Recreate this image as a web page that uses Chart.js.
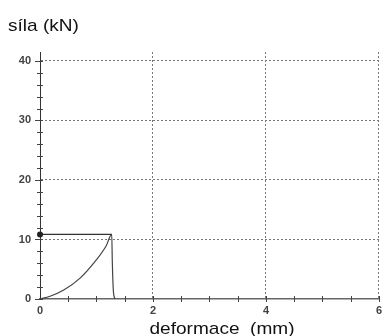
<!DOCTYPE html>
<html>
<head>
<meta charset="utf-8">
<script src="https://cdn.jsdelivr.net/npm/chart.js@4"></script>
<style>
html, body { margin: 0; padding: 0; background: #fff; }
</style>
</head>
<body>
<canvas id="Chart" width="387" height="336"></canvas>
<script>
// data
const xTicks = [0, 2, 4, 6]
const yTicks = [0, 10, 20, 30, 40]
const curveX = [0, 0.19, 0.42, 0.71, 1.0, 1.17, 1.27, 1.28, 1.30, 1.33]
const curveY = [0, 0.5, 1.5, 3.5, 6.6, 8.9, 10.85, 6.3, 1.2, 0]
const peakX = [0, 1.27]
const peakY = [10.85, 10.85]
const yTitle = "síla (kN)"
const xTitle = "deformace  (mm)"

const toPoints = (xs, ys) => xs.map((x, i) => ({ x: x, y: ys[i] }))

// minor ticks, axis titles
const extras = {
    id: 'extras',
    afterDraw(chart) {
        const ctx = chart.ctx
        const xs = chart.scales.x
        const ys = chart.scales.y
        const x0 = xs.getPixelForValue(0)
        const y0 = ys.getPixelForValue(0)
        ctx.save()
        ctx.strokeStyle = '#444'
        ctx.lineWidth = 1
        ctx.beginPath()
        for (let i = 0; i <= 20; i++) {
            const py = Math.round(ys.getPixelForValue(i * 2)) + 0.5
            const len = (i % 5 === 0) ? 5 : 3
            ctx.moveTo(x0 - len, py)
            ctx.lineTo(x0 + 3, py)
        }
        for (let i = 1; i <= 12; i++) {
            const px = Math.round(xs.getPixelForValue(i * 0.5)) + 0.5
            ctx.moveTo(px, y0 - 3)
            ctx.lineTo(px, y0 + 3)
        }
        ctx.stroke()

        ctx.fillStyle = '#111'
        ctx.font = '17px "Liberation Sans", Arial, sans-serif'
        ctx.textBaseline = 'alphabetic'
        ctx.textAlign = 'left'
        ctx.translate(8, 31)
        ctx.scale(1.12, 1)
        ctx.fillText(yTitle, 0, 0)
        ctx.setTransform(1, 0, 0, 1, 0, 0)
        ctx.textAlign = 'center'
        ctx.translate(222, 334)
        ctx.scale(1.12, 1)
        ctx.fillText(xTitle, 0, 0)
        ctx.restore()
    }
}

const tickFont = { family: '"Liberation Sans", Arial, sans-serif', size: 11, weight: 'bold' }

new Chart(document.getElementById('Chart'), {
    type: 'line',
    data: {
        datasets: [{
            label: 'krivka',
            data: toPoints(curveX, curveY),
            borderColor: '#444',
            borderWidth: 1.2,
            pointRadius: 0,
            cubicInterpolationMode: 'monotone',
            clip: false,
        },
        {
            label: 'maximum',
            data: toPoints(peakX, peakY),
            borderColor: '#333',
            borderWidth: 1.2,
            pointRadius: [3, 0],
            pointBackgroundColor: '#222',
            pointBorderWidth: 0,
            clip: false,
        }],
    },
    options: {
        responsive: false,
        animation: false,
        layout: {
            autoPadding: false,
            padding: { left: 8, top: 52, right: 3, bottom: 0 },
        },
        plugins: {
            legend: { display: false },
            tooltip: { enabled: false },
        },
        scales: {
            x: {
                type: 'linear',
                min: 0,
                max: 6,
                afterBuildTicks: (s) => { s.ticks = xTicks.map(v => ({ value: v })) },
                afterFit: (s) => { s.height = 37 },
                ticks: { font: tickFont, color: '#444', padding: 5, maxRotation: 0 },
                grid: {
                    drawTicks: false,
                    color: (c) => c.tick && c.tick.value === 0 ? 'rgba(0,0,0,0)' : '#777',
                },
                border: { color: '#666', width: 1.5, dash: [2, 2] },
            },
            y: {
                type: 'linear',
                min: 0,
                max: 41.5,
                afterBuildTicks: (s) => { s.ticks = yTicks.map(v => ({ value: v })) },
                afterFit: (s) => { s.width = 32 },
                ticks: { font: tickFont, color: '#444', padding: 9 },
                grid: {
                    drawTicks: false,
                    color: (c) => c.tick && c.tick.value === 0 ? 'rgba(0,0,0,0)' : '#777',
                },
                border: { color: '#333', width: 1, dash: [2, 2] },
            },
        },
    },
    plugins: [extras],
});
</script>
</body>
</html>
